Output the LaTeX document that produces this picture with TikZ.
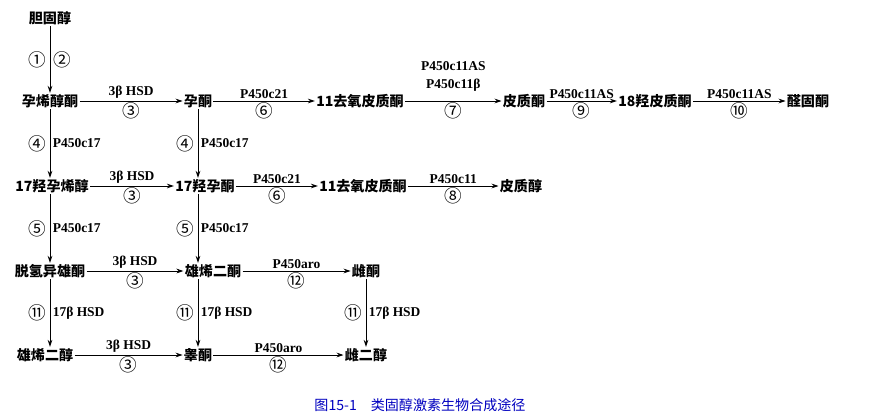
\documentclass[tikz,border=0pt]{standalone}
\usepackage{fontspec}
\setmainfont{Liberation Serif}
\newfontfamily\cjk{Noto Sans CJK SC}
\usetikzlibrary{arrows.meta}
\usetikzlibrary{positioning}

\begin{document}
\begin{tikzpicture}[x=0.03cm,y=-0.03cm,
cpd/.style={font=\cjk\bfseries\fontsize{12}{14}\selectfont, inner sep=1pt},
enz/.style={font=\bfseries\fontsize{11.5}{13}\selectfont, inner sep=2pt},
num/.style={font=\cjk\fontsize{15}{16}\selectfont, inner sep=1pt},
arr/.style={-{Stealth[length=6pt,width=4pt]}, thick},
]
\useasboundingbox (0,0) rectangle (891,418);
% compounds
\node[cpd](chol) at (50,18){胆固醇};
\node[cpd](preg) at (50,101){孕烯醇酮};
\node[cpd](prog) at (198,101){孕酮};
\node[cpd](doc1) at (360,101){11去氧皮质酮};
\node[cpd](cort) at (524,101){皮质酮};
\node[cpd](hcort) at (655,101){18羟皮质酮};
\node[cpd](aldo) at (808,101){醛固酮};
\node[cpd](hpreg) at (52,186){17羟孕烯醇};
\node[cpd](hprog) at (205,186){17羟孕酮};
\node[cpd](doc2) at (363,186){11去氧皮质酮};
\node[cpd](cortl) at (521,186){皮质醇};
\node[cpd](dhea) at (50,271){脱氢异雄酮};
\node[cpd](andr) at (213,271){雄烯二酮};
\node[cpd](estr) at (366,271){雌酮};
\node[cpd](diol) at (45,355){雄烯二醇};
\node[cpd](test) at (198,355){睾酮};
\node[cpd](estd) at (366,355){雌二醇};
% horizontal steps
\draw[arr] (preg) -- node[enz,above]{3β HSD} node[num,below]{③} (prog);
\draw[arr] (prog) -- node[enz,above]{P450c21} node[num,below]{⑥} (doc1);
\draw[arr] (doc1) -- node[enz,above,yshift=6pt,align=center]{P450c11AS\\[2pt]P450c11β} node[num,below]{⑦} (cort);
\draw[arr] (cort) -- node[enz,above]{P450c11AS} node[num,below]{⑨} (hcort);
\draw[arr] (hcort) -- node[enz,above]{P450c11AS} node[num,below]{⑩} (aldo);
\draw[arr] (hpreg) -- node[enz,above]{3β HSD} node[num,below]{③} (hprog);
\draw[arr] (hprog) -- node[enz,above]{P450c21} node[num,below]{⑥} (doc2);
\draw[arr] (doc2) -- node[enz,above]{P450c11} node[num,below]{⑧} (cortl);
\draw[arr] (dhea) -- node[enz,above]{3β HSD} node[num,below]{③} (andr);
\draw[arr] (andr) -- node[enz,above]{P450aro} node[num,below]{⑫} (estr);
\draw[arr] (diol) -- node[enz,above]{3β HSD} node[num,below]{③} (test);
\draw[arr] (test) -- node[enz,above]{P450aro} node[num,below]{⑫} (estd);
% vertical steps
\draw[arr] (chol) -- node[num,left=2pt]{①} node[num,right=2pt]{②} (preg);
\draw[arr] (preg) -- node[num,left=2pt]{④} node[enz,right]{P450c17} (preg |- hpreg.north);
\draw[arr] (prog) -- node[num,left=2pt]{④} node[enz,right]{P450c17} (prog |- hprog.north);
\draw[arr] (hpreg.south -| preg) -- node[num,left=2pt]{⑤} node[enz,right]{P450c17} (preg |- dhea.north);
\draw[arr] (hprog.south -| prog) -- node[num,left=2pt]{⑤} node[enz,right]{P450c17} (prog |- andr.north);
\draw[arr] (dhea) -- node[num,left=2pt]{⑪} node[enz,right]{17β HSD} (dhea |- diol.north);
\draw[arr] (andr.south -| prog) -- node[num,left=2pt]{⑪} node[enz,right]{17β HSD} (test);
\draw[arr] (estr) -- node[num,left=2pt]{⑪} node[enz,right]{17β HSD} (estd);
% caption
\node[font=\cjk\fontsize{12}{14}\selectfont, text=blue!75!black](cap) at (420,405){图15-1\quad 类固醇激素生物合成途径};
\end{tikzpicture}
\end{document}
